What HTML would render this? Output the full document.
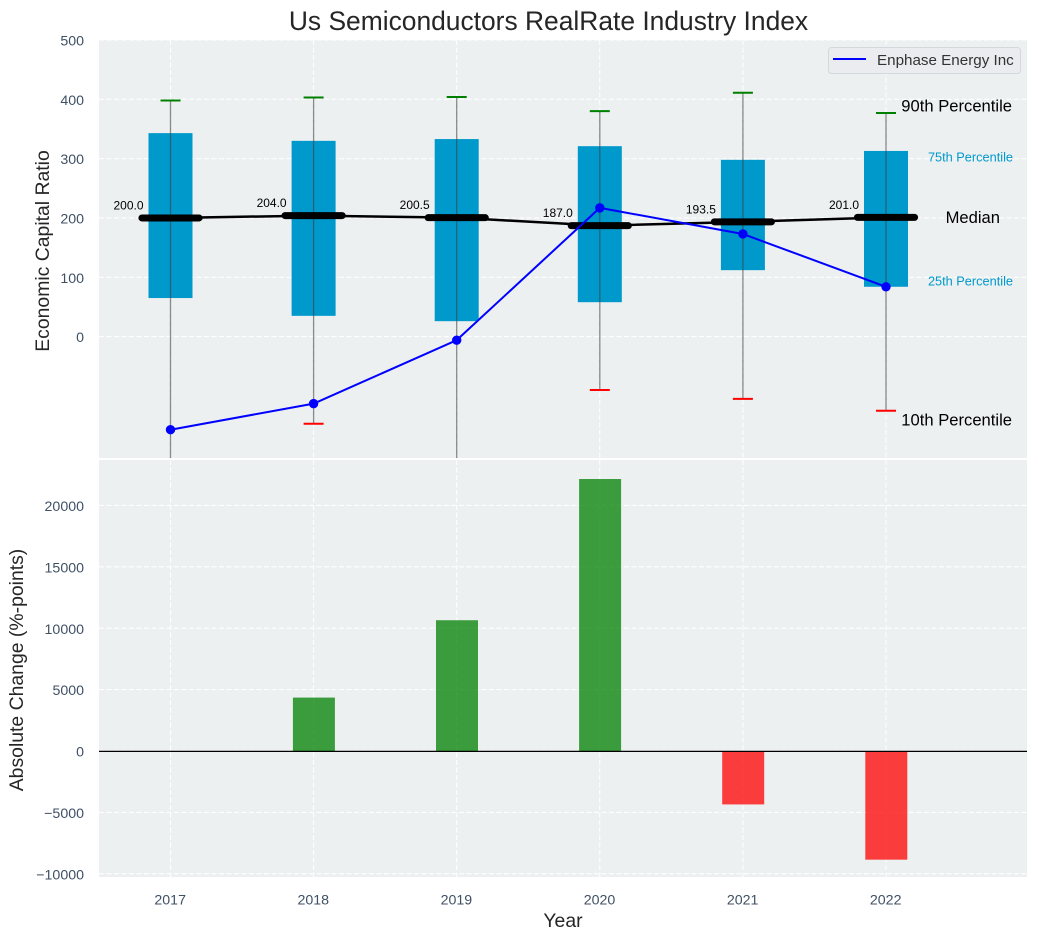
<!DOCTYPE html>
<html lang="en">
<head>
<meta charset="utf-8">
<title>Us Semiconductors RealRate Industry Index</title>
<style>
html,body{margin:0;padding:0;background:#fff;width:1038px;height:940px;overflow:hidden}
svg{display:block;font-family:"Liberation Sans",Arial,sans-serif}
</style>
</head>
<body>
<svg id="chart" width="1038" height="940" viewBox="0 0 1038 940" xmlns="http://www.w3.org/2000/svg">
<defs>
<clipPath id="clip-top"><rect x="99" y="40" width="928" height="418"/></clipPath>
<clipPath id="clip-bottom"><rect x="99" y="460" width="928" height="417"/></clipPath>
</defs>
<rect x="99" y="40" width="928" height="418" fill="#ecf0f1"/>
<rect x="99" y="460" width="928" height="417" fill="#ecf0f1"/>
<g id="grid"></g>
<g id="top-marks" clip-path="url(#clip-top)"></g>
<g id="bottom-marks" clip-path="url(#clip-bottom)"></g>
<g id="ticks"></g>
<g id="notes"></g>
<text x="548.5" y="30" text-anchor="middle" font-size="26.4" fill="#262626">Us Semiconductors RealRate Industry Index</text>
<text transform="translate(49,251) rotate(-90)" text-anchor="middle" font-size="19.4" fill="#262626">Economic Capital Ratio</text>
<text transform="translate(23,670) rotate(-90)" text-anchor="middle" font-size="19.4" fill="#262626">Absolute Change (%-points)</text>
<text x="563" y="927" text-anchor="middle" font-size="19.4" fill="#262626">Year</text>
<g>
<rect x="828.5" y="47.5" width="192" height="26" rx="3" fill="#eaecf0" stroke="#d4d8dc" stroke-width="1"/>
<line x1="833" y1="59" x2="866" y2="59" stroke="#0000ff" stroke-width="2"/>
<text x="877" y="65" font-size="15.2" fill="#333">Enphase Energy Inc</text>
</g>
</svg>
<script>
const years = [2017, 2018, 2019, 2020, 2021, 2022];
const p90 = [398, 403, 404, 380, 411, 377];
const p75 = [343, 330, 333, 321, 298, 313];
const medians = [200, 204, 200.5, 187, 193.5, 201];
const p25 = [65, 35, 26, 58, 112, 84];
const p10 = [-300, -147, -300, -90, -105, -125];
const company = [-157, -113, -6, 217, 173, 84];
const changes = [0, 4350, 10650, 22150, -4350, -8850];
const topTicks = [0, 100, 200, 300, 400, 500];
const bottomTicks = [-10000, -5000, 0, 5000, 10000, 15000, 20000];

const NS = 'http://www.w3.org/2000/svg';
const xScale = v => 170.5 + (v - 2017) * 143.1;
const yTop = v => 336.6 - v * 0.5932;
const yBottom = v => 751 - v * 0.01228;

function make(tag, parent, attrs, text) {
  const el = document.createElementNS(NS, tag);
  for (const k in attrs) el.setAttribute(k, attrs[k]);
  if (text !== undefined) el.textContent = text;
  parent.appendChild(el);
  return el;
}
const grid = document.getElementById('grid');
const topG = document.getElementById('top-marks');
const botG = document.getElementById('bottom-marks');
const ticks = document.getElementById('ticks');
const notes = document.getElementById('notes');
const dash = {stroke: '#ffffff', 'stroke-width': 1.1, 'stroke-dasharray': '5 2.5', opacity: 0.95};
const tickFill = '#3f5064';
const fmt = v => (v < 0 ? '\u2212' + Math.abs(v) : String(v));

topTicks.forEach(t => {
  const y = yTop(t);
  const g = make('line', grid, {x1: 99, x2: 1027, y1: y, y2: y, ...dash});
  
  
  const l = make('text', ticks, {x: 84, y: y + 5.6, 'text-anchor': 'end', 'font-size': 14.2, fill: tickFill}, fmt(t));
  
  
});
bottomTicks.forEach(t => {
  const y = yBottom(t);
  const g = make('line', grid, {x1: 99, x2: 1027, y1: y, y2: y, ...dash});
  
  
  const l = make('text', ticks, {x: 84, y: y + 5.6, 'text-anchor': 'end', 'font-size': 14.2, fill: tickFill}, fmt(t));
  
  
});
years.forEach(yr => {
  const x = xScale(yr);
  const a = make('line', grid, {x1: x, x2: x, y1: 40, y2: 458, ...dash});
  
  
  const b = make('line', grid, {x1: x, x2: x, y1: 460, y2: 877, ...dash});
  
  
  const l = make('text', ticks, {x: x - 0.3, y: 904.3, 'text-anchor': 'middle', 'font-size': 14.2, fill: tickFill}, String(yr));
  
  
});

years.forEach((yr, i) => {
  const x = xScale(yr);
  const box = make('rect', topG, {x: x - 22, width: 44, y: yTop(p75[i]), height: yTop(p25[i]) - yTop(p75[i]), fill: '#0099cc'});
  
  
  const w = make('line', topG, {x1: x, x2: x, y1: yTop(p90[i]), y2: yTop(p10[i]), stroke: '#404040', 'stroke-opacity': 0.6, 'stroke-width': 1.3});
  
  
  const hi = make('line', topG, {x1: x - 10, x2: x + 10, y1: yTop(p90[i]), y2: yTop(p90[i]), stroke: '#008000', 'stroke-width': 2});
  
  
  const lo = make('line', topG, {x1: x - 10, x2: x + 10, y1: yTop(p10[i]), y2: yTop(p10[i]), stroke: '#ff0000', 'stroke-width': 2});
  
  
});

const medianLine = make('polyline', topG, {points: years.map((yr, i) => xScale(yr) + ',' + yTop(medians[i])).join(' '), fill: 'none', stroke: '#000', 'stroke-width': 2.5});


years.forEach((yr, i) => {
  const x = xScale(yr), y = yTop(medians[i]);
  const m = make('line', topG, {x1: x - 28.6, x2: x + 28.6, y1: y, y2: y, stroke: '#000', 'stroke-width': 7, 'stroke-linecap': 'round'});
  
  
  const t = make('text', topG, {x: x - 27, y: y - 8.5, 'text-anchor': 'end', 'font-size': 12, fill: '#000'}, medians[i].toFixed(1));
  
  
});
const companyLine = make('polyline', topG, {points: years.map((yr, i) => xScale(yr) + ',' + yTop(company[i])).join(' '), fill: 'none', stroke: '#0000ff', 'stroke-width': 2});


years.forEach((yr, i) => {
  const p = make('circle', topG, {cx: xScale(yr), cy: yTop(company[i]), r: 4.7, fill: '#0000ff'});
  
  
});

years.forEach((yr, i) => {
  const x = xScale(yr) + 0.3, y0 = yBottom(0), y1 = yBottom(changes[i]);
  const b = make('rect', botG, {x: x - 21, width: 42, y: Math.min(y0, y1), height: Math.abs(y1 - y0), fill: changes[i] >= 0 ? '#008000' : '#ff0000', 'fill-opacity': 0.75});
  
  
});
const zero = make('line', botG, {x1: 99, x2: 1027, y1: yBottom(0) + 0.4, y2: yBottom(0) + 0.4, stroke: '#000', 'stroke-width': 1.3});



const last = years.length - 1;
const n90 = make('text', notes, {x: 1012, y: yTop(p90[last]) - 1.5, 'text-anchor': 'end', 'font-size': 16.6, fill: '#000'}, '90th Percentile');


const n75 = make('text', notes, {x: 1013, y: yTop(p75[last]) + 10.5, 'text-anchor': 'end', 'font-size': 12.75, fill: '#0099cc'}, '75th Percentile');


const n50 = make('text', notes, {x: 1000, y: yTop(medians[last]) + 5.5, 'text-anchor': 'end', 'font-size': 16.6, fill: '#000'}, 'Median');


const n25 = make('text', notes, {x: 1013, y: yTop(p25[last]) - 1.5, 'text-anchor': 'end', 'font-size': 12.75, fill: '#0099cc'}, '25th Percentile');


const n10 = make('text', notes, {x: 1012, y: yTop(p10[last]) + 14.5, 'text-anchor': 'end', 'font-size': 16.6, fill: '#000'}, '10th Percentile');


</script>
</body>
</html>
